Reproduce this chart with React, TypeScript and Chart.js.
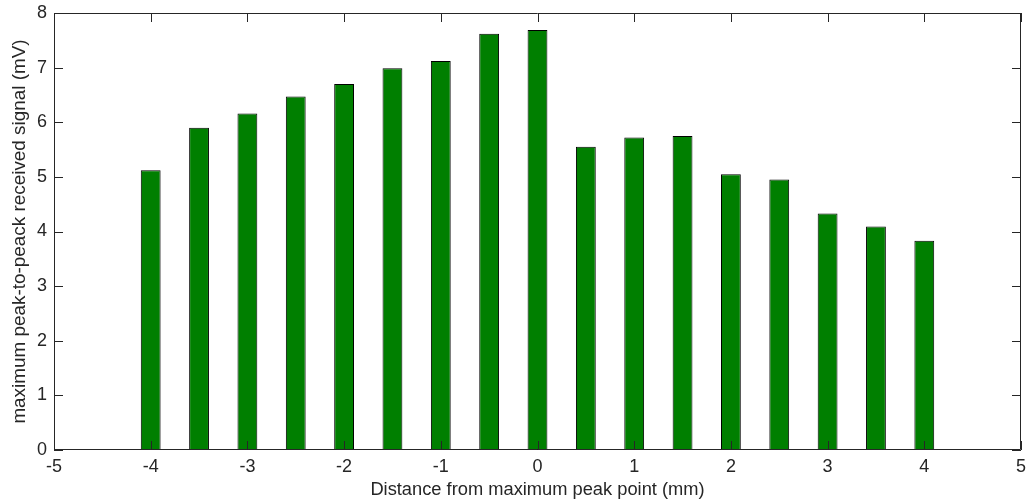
import React, { useEffect, useRef } from "react";
import { Chart, registerables } from "chart.js";

Chart.register(...registerables);

const positions: number[] = [-4, -3.5, -3, -2.5, -2, -1.5, -1, -0.5, 0, 0.5, 1, 1.5, 2, 2.5, 3, 3.5, 4];
const signal: number[] = [5.12, 5.9, 6.16, 6.47, 6.7, 6.99, 7.12, 7.62, 7.69, 5.55, 5.72, 5.75, 5.05, 4.95, 4.33, 4.09, 3.83];

const xTitle = "Distance from maximum peak point (mm)";
const yTitle = "maximum peak-to-peack received signal (mV)";

const AXIS_COLOR = "#262626";
const FONT = "'Liberation Sans', Arial, sans-serif";

const boxTicks = {
  id: "boxTicks",
  afterDraw(chart: any) {
    const { ctx, chartArea } = chart;
    const { left, right, top, bottom } = chartArea;
    const xs = chart.scales.x;
    const ys = chart.scales.y;
    const len = 9;
    ctx.save();
    ctx.strokeStyle = AXIS_COLOR;
    ctx.lineWidth = 1;
    ctx.beginPath();
    ctx.rect(left + 0.5, top + 0.5, right - left - 1, bottom - top - 1);
    xs.ticks.forEach((t: any) => {
      const px = Math.round(xs.getPixelForValue(t.value)) + 0.5;
      ctx.moveTo(px, bottom);
      ctx.lineTo(px, bottom - len);
      ctx.moveTo(px, top);
      ctx.lineTo(px, top + len);
    });
    ys.ticks.forEach((t: any) => {
      const py = Math.round(ys.getPixelForValue(t.value)) + 0.5;
      ctx.moveTo(left, py);
      ctx.lineTo(left + len, py);
      ctx.moveTo(right, py);
      ctx.lineTo(right - len, py);
    });
    ctx.stroke();
    ctx.restore();
  },
};

const zeroPadding = (s: any) => {
  s.paddingTop = 0;
  s.paddingBottom = 0;
  s.paddingLeft = 0;
  s.paddingRight = 0;
};

export default function App() {
  const ref = useRef<HTMLCanvasElement | null>(null);
  useEffect(() => {
    if (!ref.current) return;
    const chart = new Chart(ref.current, {
      type: "bar",
      data: {
        datasets: [
          {
            data: positions.map((x, i) => ({ x, y: signal[i] })),
            backgroundColor: "#007f00",
            borderColor: "#000000",
            borderWidth: 1,
            borderSkipped: false,
            categoryPercentage: 1,
            barPercentage: 0.41,
          },
        ],
      },
      options: {
        animation: false,
        responsive: false,
        maintainAspectRatio: false,
        layout: { padding: { top: 13, right: 6, left: 0, bottom: 0 } },
        plugins: { legend: { display: false }, tooltip: { enabled: false } },
        scales: {
          x: {
            type: "linear",
            min: -5,
            max: 5,
            offset: false,
            grid: { display: false, drawTicks: false },
            border: { display: false },
            ticks: {
              stepSize: 1,
              padding: 6,
              color: AXIS_COLOR,
              font: { family: FONT, size: 18 },
              maxRotation: 0,
            },
            title: {
              display: true,
              text: xTitle,
              color: AXIS_COLOR,
              font: { family: FONT, size: 18.3 },
              padding: { top: 0, bottom: 2 },
            },
            afterFit: (s: any) => {
              s.height = 53;
              zeroPadding(s);
            },
          },
          y: {
            min: 0,
            max: 8,
            grid: { display: false, drawTicks: false },
            border: { display: false },
            ticks: {
              stepSize: 1,
              padding: 7,
              color: AXIS_COLOR,
              font: { family: FONT, size: 18 },
            },
            title: {
              display: true,
              text: yTitle,
              color: AXIS_COLOR,
              font: { family: FONT, size: 18.9 },
              padding: { top: 8, bottom: 0 },
            },
            afterFit: (s: any) => {
              s.width = 54;
              zeroPadding(s);
            },
          },
        },
      },
      plugins: [boxTicks],
    });
    return () => chart.destroy();
  }, []);
  return (
    <div style={{ position: "absolute", left: 0, top: 0, width: 1027, height: 503, background: "#fff" }}>
      <canvas ref={ref} width={1027} height={503} style={{ display: "block" }} />
    </div>
  );
}
